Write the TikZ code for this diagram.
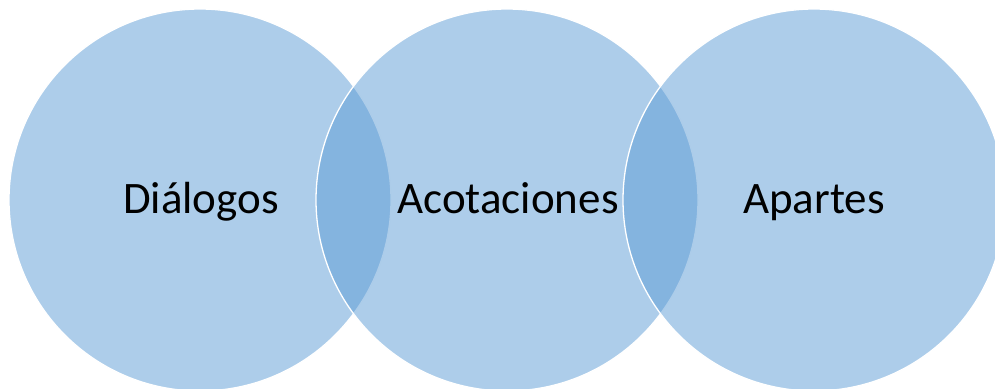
\documentclass[tikz,border=0pt]{standalone}
\usepackage{fontspec}
\setmainfont{Carlito}
\definecolor{accent}{HTML}{5B9BD5}
\begin{document}
\begin{tikzpicture}[x=1pt,y=-1pt,
  venn/.style={circle, minimum size=382pt, inner sep=0pt, fill=accent, fill opacity=0.5, draw=white, draw opacity=1, line width=1.3pt},
  lbl/.style={font=\fontsize{45}{52}\selectfont, text=black, anchor=base, inner sep=0pt}]
\useasboundingbox (0,0) rectangle (995,388);
\clip (0,0) rectangle (995,388);
\node[venn] (c1) at (200,200) {};
\node[venn] (c2) at (507,200) {};
\node[venn] (c3) at (814,200) {};
\node[lbl] (t1) at (201,213) {Diálogos};
\node[lbl] (t2) at (508,213) {Acotaciones};
\node[lbl] (t3) at (814,213) {Apartes};
\end{tikzpicture}
\end{document}
